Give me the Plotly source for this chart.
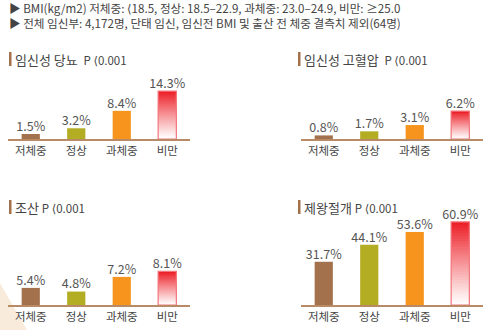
import plotly.graph_objects as go

categories = ["저체중", "정상", "과체중", "비만"]
titles = ["임신성 당뇨", "임신성 고혈압", "조산", "제왕절개"]
p_text = ["P ⟨0.001", "P ⟨0.001", "P ⟨0.001", "P ⟨0.001"]
gdm = [1.5, 3.2, 8.4, 14.3]
htn = [0.8, 1.7, 3.1, 6.2]
preterm = [5.4, 4.8, 7.2, 8.1]
csection = [31.7, 44.1, 53.6, 60.9]
series = [gdm, htn, preterm, csection]
header1 = "▶ BMI(kg/m2) 저체중: ⟨18.5, 정상: 18.5–22.9, 과체중: 23.0–24.9, 비만: ≥25.0"
header2 = "▶ 전체 임신부: 4,172명, 단태 임신, 임신전 BMI 및 출산 전 체중 결측치 제외(64명)"

W, H = 500, 330
FONT = "Noto Sans CJK KR, Noto Sans, sans-serif"
bar_colors = ["#A3714B", "#B3AD24", "#F7941E"]
red = (236, 28, 36)
outline = "#F2777C"

# panel layout in pixels: (x0, x1, ytop, ybase), y range
panels = [
    (8, 190, 80, 139, (0, 17.6)),
    (301, 483, 80, 139, (0, 13.1)),
    (8, 190, 225, 305, (2.6, 15.7)),
    (301, 483, 215, 305, (0, 66.0)),
]
title_pos = [(9, 59), (298, 59), (9, 207), (298, 207)]
title_gap = ["&nbsp;&nbsp;", "&nbsp;&nbsp;", " ", " "]


def fix_bracket(s):
    return s.replace("⟨", "<span style='font-family:DejaVu Sans'>⟨</span>")


fig = go.Figure()
N = 30
for k, vals in enumerate(series):
    xa = "x" if k == 0 else f"x{k+1}"
    ya = "y" if k == 0 else f"y{k+1}"
    lo = panels[k][4][0]
    fig.add_trace(go.Bar(
        x=categories[:3], y=[v - lo for v in vals[:3]], base=[lo] * 3,
        marker=dict(color=bar_colors, line=dict(width=0)),
        width=0.4, xaxis=xa, yaxis=ya, showlegend=False, hoverinfo="skip"))
    v = vals[3]
    step = (v - lo) / N
    for i in range(N):
        t = (i + 0.5) / N
        c = tuple(int(round(255 + (rc - 255) * t ** 1.1)) for rc in red)
        b = lo + i * step
        fig.add_trace(go.Bar(
            x=[categories[3]], y=[min(step * 2.5, v - b)], base=[b],
            marker=dict(color=f"rgb{c}", line=dict(width=0)),
            width=0.4, xaxis=xa, yaxis=ya, showlegend=False, hoverinfo="skip"))
    fig.add_trace(go.Bar(
        x=[categories[3]], y=[v - lo], base=[lo],
        marker=dict(color="rgba(0,0,0,0)", line=dict(color=outline, width=1.2)),
        width=0.4, xaxis=xa, yaxis=ya, showlegend=False, hoverinfo="skip"))
    fig.add_trace(go.Scatter(
        x=categories, y=vals, mode="text",
        text=[f"{x}%" for x in vals], textposition="top center",
        textfont=dict(size=12.5, color="#555555", family=FONT),
        xaxis=xa, yaxis=ya, showlegend=False, hoverinfo="skip", cliponaxis=False))

layout = dict(
    width=W, height=H, margin=dict(l=0, r=0, t=0, b=0),
    paper_bgcolor="white", plot_bgcolor="rgba(0,0,0,0)",
    barmode="overlay", font=dict(family=FONT),
)
for k, (x0, x1, yt, yb, rng) in enumerate(panels):
    sx = "" if k == 0 else str(k + 1)
    layout[f"xaxis{sx}"] = dict(
        domain=[x0 / W, x1 / W], anchor=f"y{sx}", type="category",
        categoryorder="array", categoryarray=categories,
        showline=True, linecolor="#B98A66", linewidth=1.5,
        showgrid=False, zeroline=False, ticks="",
        tickfont=dict(size=11.5, color="#444444", family=FONT),
        fixedrange=True)
    layout[f"yaxis{sx}"] = dict(
        domain=[1 - yb / H, 1 - yt / H], anchor=f"x{sx}", range=list(rng),
        visible=False, showgrid=False, zeroline=False, fixedrange=True)
fig.update_layout(**layout)

shapes = [dict(type="path", xref="paper", yref="paper", layer="below",
               path=f"M 0 {1-283/H} L {27/W} 0 L 0 0 Z",
               fillcolor="#F8EBDB", line=dict(width=0))]
annotations = [
    dict(x=7 / W, y=1 - 15.5 / H, xref="paper", yref="paper", xanchor="left", yanchor="middle",
         align="left", text=fix_bracket(header1) + "<br>" + header2, showarrow=False,
         font=dict(size=11.6, color="#444444", family=FONT)),
]
for k, (tx, ty) in enumerate(title_pos):
    shapes.append(dict(type="rect", xref="paper", yref="paper",
                       x0=tx / W, x1=(tx + 2.5) / W, y0=1 - (ty + 7) / H, y1=1 - (ty - 7) / H,
                       fillcolor="#A3714B", line=dict(width=0)))
    annotations.append(dict(
        x=(tx + 4) / W, y=1 - ty / H, xref="paper", yref="paper",
        xanchor="left", yanchor="middle", showarrow=False,
        text=f"{titles[k]}{title_gap[k]}<span style='font-size:11.5px'>{fix_bracket(p_text[k])}</span>",
        font=dict(size=13, color="#444444", family=FONT)))
fig.update_layout(shapes=shapes, annotations=annotations)

fig.write_html("out.html")
